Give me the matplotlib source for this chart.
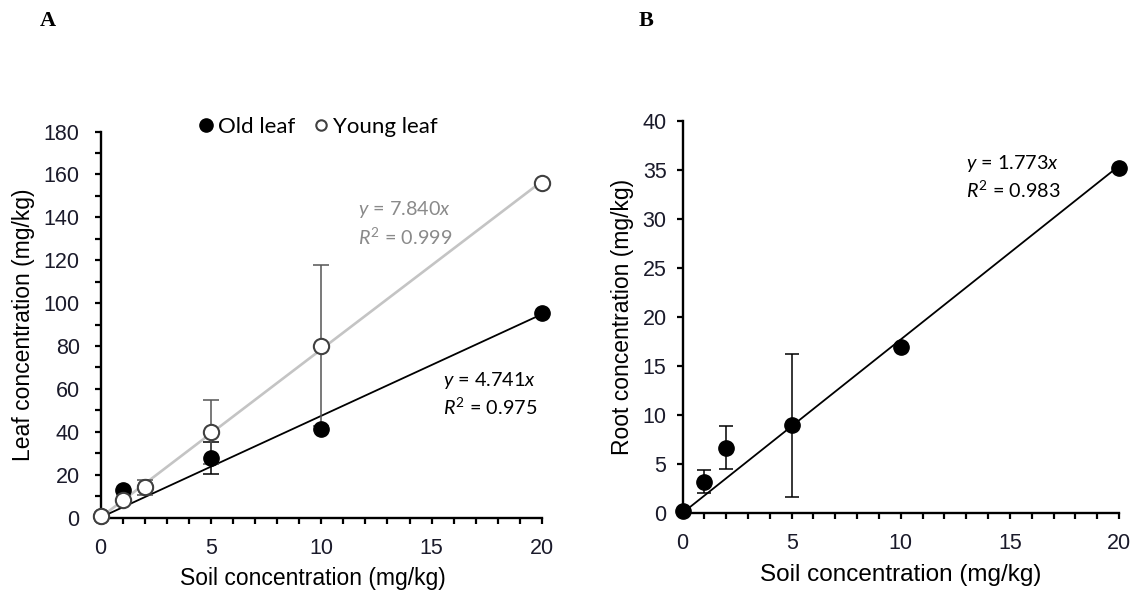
import matplotlib
matplotlib.use("Agg")
import matplotlib.pyplot as plt
import numpy as np
from matplotlib.ticker import MultipleLocator

plt.rcParams['font.family'] = ['Liberation Sans', 'DejaVu Sans']
plt.rcParams['mathtext.fontset'] = 'custom'
plt.rcParams['mathtext.it'] = 'Lato:italic'
plt.rcParams['mathtext.rm'] = 'Lato'

# Soil concentrations (mg/kg)
soil = [0, 1, 2, 5, 10, 20]

# Panel A: leaf concentrations (mg/kg)
old_leaf = [0.8, 12.8, 14.0, 27.6, 41.3, 95.5]
old_leaf_err = [0, 0, 0, 7.4, 0, 0]
young_leaf = [0.8, 8.1, 14.0, 40.0, 80.2, 156.1]
young_leaf_err = [0, 0, 3.4, 15.0, 37.4, 0]
slope_old, r2_old = 4.741, 0.975
slope_young, r2_young = 7.840, 0.999

# Panel B: root concentrations (mg/kg)
root = [0.2, 3.2, 6.65, 8.95, 17.0, 35.3]
root_err = [0, 1.2, 2.2, 7.3, 0, 0]
slope_root, r2_root = 1.773, 0.983

W, H = 1140, 599
fig = plt.figure(figsize=(W / 100, H / 100), dpi=100)

axA = fig.add_axes([100.5 / W, 1 - 517.5 / H, 441.5 / W, 386 / H])
axB = fig.add_axes([682.5 / W, 1 - 513 / H, 436.5 / W, 391.5 / H])

eq_font = dict(family='Lato', fontsize=14.2, va='center')
TICK_FS = 15.5
LABEL_FS = 16.5


def style_axes(ax, ymax, ymajor, yminor, ypad, xlabel_fs):
    ax.set_xlim(0, 20)
    ax.set_ylim(0, ymax)
    for s in ('top', 'right'):
        ax.spines[s].set_visible(False)
    for s in ('left', 'bottom'):
        ax.spines[s].set_linewidth(1.7)
        ax.spines[s].set_color('black')
    ax.xaxis.set_major_locator(MultipleLocator(5))
    ax.xaxis.set_minor_locator(MultipleLocator(1))
    ax.yaxis.set_major_locator(MultipleLocator(ymajor))
    if yminor:
        ax.yaxis.set_minor_locator(MultipleLocator(yminor))
    ax.tick_params(which='both', direction='out', length=4.5, width=1.6,
                   color='black')
    ax.tick_params(axis='x', which='major', labelsize=TICK_FS, pad=10,
                   labelcolor='#1a1a2a')
    ax.tick_params(axis='y', which='major', labelsize=TICK_FS, pad=ypad,
                   labelcolor='#1a1a2a')
    ax.set_xlabel('Soil concentration (mg/kg)', fontsize=xlabel_fs,
                  labelpad=7)


def fit_text(ax, x, y, slope, r2, color, dy):
    ax.text(x, y, rf'$y$ = {slope:.3f}$x$', color=color, **eq_font)
    ax.text(x, y - dy, rf'$R^{{2}}$ = {r2:.3f}', color=color, **eq_font)


xfit = np.array([0, 20])

# ---- Panel A ----
style_axes(axA, 180, 20, 10, 10.5, LABEL_FS)
axA.xaxis.set_label_coords(0.48, -0.128)
axA.plot(xfit, slope_young * xfit, color='#c4c4c4', lw=1.9, zorder=1)
axA.plot(xfit, slope_old * xfit, color='black', lw=1.3, zorder=1)

old_err = [e if e > 0 else np.nan for e in old_leaf_err]
young_err = [e if e > 0 else np.nan for e in young_leaf_err]
axA.errorbar(soil, old_leaf, yerr=old_err, fmt='none', ecolor='black',
             elinewidth=1.1, capsize=5.5, capthick=1.1, zorder=2)
axA.errorbar(soil, young_leaf, yerr=young_err, fmt='none', ecolor='#555555',
             elinewidth=1.1, capsize=5.5, capthick=1.1, zorder=2)
axA.plot(soil, old_leaf, 'o', ms=11, mfc='black', mec='black',
         label='Old leaf', zorder=3, clip_on=False)
axA.plot(soil, young_leaf, 'o', ms=11, mfc='white', mec='#404040', mew=1.5,
         label='Young leaf', zorder=4, clip_on=False)

axA.set_ylabel('Leaf concentration (mg/kg)', fontsize=LABEL_FS, labelpad=6)

fit_text(axA, 11.68, 143.8, slope_young, r2_young, '#8a8a8a', 13.0)
fit_text(axA, 15.53, 63.9, slope_old, r2_old, 'black', 12.5)

handles, labels = axA.get_legend_handles_labels()
leg = axA.legend(handles, labels, loc='center', bbox_to_anchor=(0.49, 1.012),
                 ncol=2, frameon=False, handletextpad=0.1, columnspacing=0.7,
                 handlelength=0.9, prop=dict(family='Lato', size=16),
                 borderaxespad=0)
leg.legend_handles[0].set_markersize(9.5)
leg.legend_handles[1].set_markersize(7.5)

# ---- Panel B ----
style_axes(axB, 40, 5, None, 7, 17.5)
axB.plot(xfit, slope_root * xfit, color='black', lw=1.3, zorder=1)
r_err = [e if e > 0 else np.nan for e in root_err]
axB.errorbar(soil, root, yerr=r_err, fmt='none', ecolor='black',
             elinewidth=1.1, capsize=5, capthick=1.1, zorder=2)
axB.plot(soil, root, 'o', ms=11, mfc='black', mec='black', zorder=3,
         clip_on=False)
axB.set_ylabel('Root concentration (mg/kg)', fontsize=LABEL_FS, labelpad=6)
fit_text(axB, 12.97, 35.7, slope_root, r2_root, 'black', 2.7)

# Panel letters
fig.text(48 / W, 1 - 21 / H, 'A', family='Liberation Serif', weight='bold',
         fontsize=16, va='center', ha='center')
fig.text(646 / W, 1 - 21 / H, 'B', family='Liberation Serif', weight='bold',
         fontsize=16, va='center', ha='center')

fig.savefig('out.png', dpi=100, facecolor='white')
